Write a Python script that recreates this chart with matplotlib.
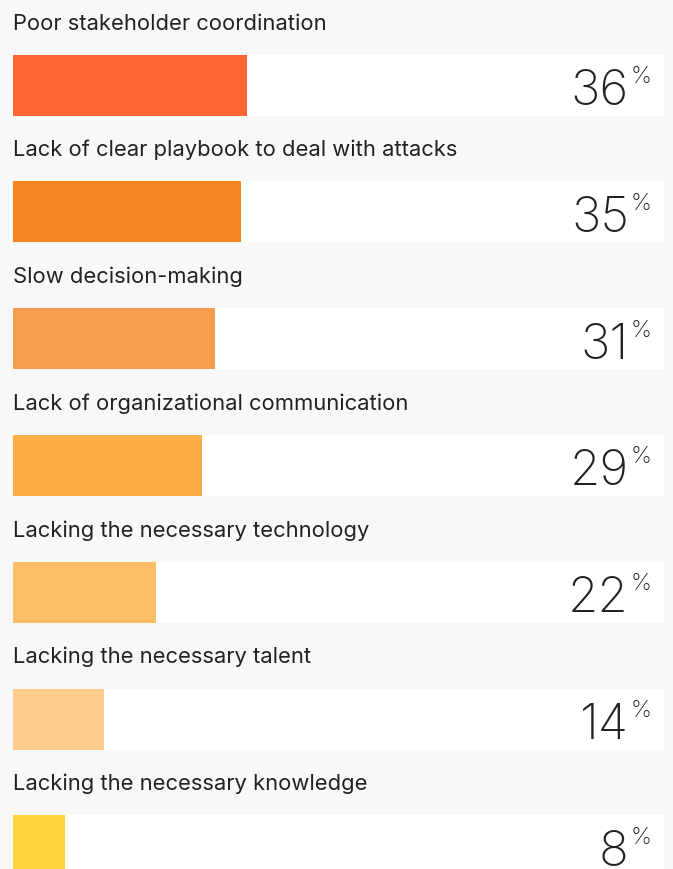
import matplotlib.pyplot as plt

# barreiras na resposta a incidentes (% dos respondentes)
rotulos = [
    'Poor stakeholder coordination',
    'Lack of clear playbook to deal with attacks',
    'Slow decision-making',
    'Lack of organizational communication',
    'Lacking the necessary technology',
    'Lacking the necessary talent',
    'Lacking the necessary knowledge',
]
valores = [36, 35, 31, 29, 22, 14, 8]
cores = ['#FF6633', '#F68420', '#F89C4F', '#FAAE43', '#FBBF68', '#FDCD8C', '#FFD33D']

fundo = '#F8F8F8'
texto = '#222222'

W, H = 673, 870
passo = 126.8  # distancia entre linhas, em pixels

fig = plt.figure(figsize=(W / 100, H / 100), dpi=100, facecolor=fundo)
ax = fig.add_axes([13 / W, 0, 651 / W, 1])
ax.set_facecolor(fundo)
ax.set_xlim(0, 100)
ax.set_ylim(H / passo, 0)
ax.axis('off')

centro = (55.5 + 30.5) / passo
altura = 61 / passo
pos = [centro + i for i in range(len(valores))]

# trilho branco e barra colorida
ax.barh(pos, [100] * len(valores), height=altura, color='white', left=0)
ax.barh(pos, valores, height=altura, color=cores, left=0)

for i, (r, v) in enumerate(zip(rotulos, valores)):
    ax.text(0, 29.5 / passo + i, r, fontsize=15.8, family='Inter', color=texto,
            ha='left', va='baseline')
    ax.text(94.6, 105 / passo + i, str(v), fontsize=35.5, family='Inter',
            fontweight='light', color=texto, ha='right', va='baseline')
    ax.text(94.9, 66 / passo + i, '%', fontsize=17, family='Inter',
            fontweight='light', color=texto, ha='left', va='top')

plt.savefig('out.png', dpi=100, facecolor=fundo)
